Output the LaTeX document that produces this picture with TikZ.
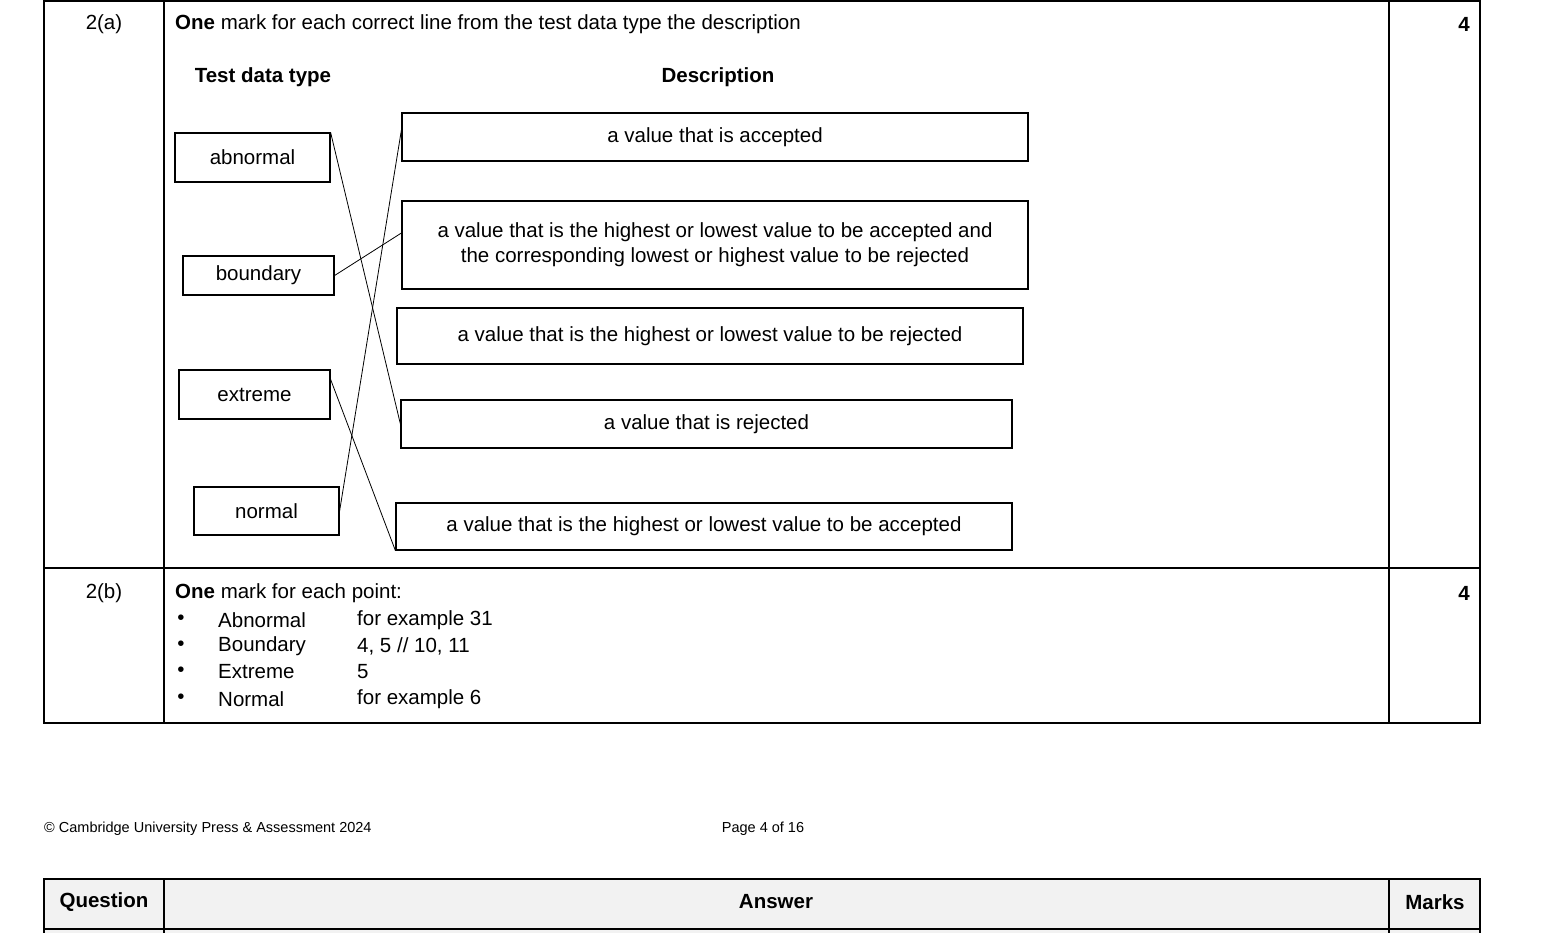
\documentclass[tikz,border=0pt]{standalone}
\usepackage{fontspec}
\setmainfont{Liberation Sans}
\usetikzlibrary{calc}
\begin{document}
\begin{tikzpicture}[x=1pt,y=-1pt,
  box/.style={draw,line width=1.2pt,inner sep=0pt,align=center,font=\fontsize{20.5}{25}\selectfont},
  txt/.style={inner sep=0pt,font=\fontsize{20.5}{25}\selectfont},
  ln/.style={line width=0.8pt}]
\useasboundingbox (0,0) rectangle (1568,932);
% table
\draw[line width=1.2pt] (44,1) rectangle (1480,723);
\draw[line width=1.2pt] (44,568) -- (1480,568) (164,1) -- (164,723) (1389,1) -- (1389,723);
\fill[black!5] (44,879) rectangle (1480,940);
\draw[line width=1.2pt] (44,940) -- (44,879) -- (1480,879) -- (1480,940) (44,929) -- (1480,929) (164,879) -- (164,940) (1389,879) -- (1389,940);
\node[txt] (q) at (104,902) {\textbf{Question}};
\node[txt] (a) at (776,902) {\textbf{Answer}};
\node[txt] (m) at (1435,902) {\textbf{Marks}};
% 2(a)
\node[txt] (qa) at (104,24) {2(a)};
\node[txt,anchor=east] (ma) at (1470,24) {\textbf{4}};
\node[txt,anchor=west] (ins) at (175,24) {\textbf{One} mark for each correct line from the test data type the description};
\node[txt] (h1) at (263,77) {\textbf{Test data type}};
\node[txt] (h2) at (718,77) {\textbf{Description}};
\node[box,minimum width=155,minimum height=49] (abn) at (252.5,157.5) {abnormal};
\node[box,minimum width=151,minimum height=39] (bnd) at (258.5,275.5) {\raisebox{-4pt}{boundary}};
\node[box,minimum width=151,minimum height=49] (ext) at (254.5,394.5) {extreme};
\node[box,minimum width=145,minimum height=48] (nor) at (266.5,511) {normal};
\node[box,minimum width=626,minimum height=48] (b1) at (715,137) {a value that is accepted};
\node[box,minimum width=626,minimum height=88] (b2) at (715,245) {a value that is the highest or lowest value to be accepted and\\the corresponding lowest or highest value to be rejected};
\node[box,minimum width=626,minimum height=56] (b3) at (710,336) {a value that is the highest or lowest value to be rejected};
\node[box,minimum width=611,minimum height=48] (b4) at (706.5,424) {a value that is rejected};
\node[box,minimum width=616,minimum height=47] (b5) at (704,526.5) {a value that is the highest or lowest value to be accepted};
\draw[ln] (abn.north east) -- (b4.west);
\draw[ln] (bnd.east) -- ($(b2.west)+(0,-12)$);
\draw[ln] ($(ext.north east)+(0,10)$) -- (b5.south west);
\draw[ln] (nor.east) -- ($(b1.west)+(0,-7)$);
% 2(b)
\node[txt] (qb) at (104,593) {2(b)};
\node[txt,anchor=east] (mb) at (1470,593) {\textbf{4}};
\node[txt,anchor=west] (p0) at (175,593) {\textbf{One} mark for each point:};
\foreach \y/\a/\b in {620/Abnormal/for example 31,646/Boundary/{4, 5 // 10, 11},672/Extreme/5 // 10,699/Normal/for example 6}{
  \node[txt] at (181,\y) {\textbullet};
  \node[txt,anchor=west] at (218,\y) {\a};
  \node[txt,anchor=west] at (357,\y) {\b};
}
% footer
\node[inner sep=0pt,anchor=west,font=\fontsize{14.5}{17}\selectfont] (c) at (44,829) {© Cambridge University Press \& Assessment 2024};
\node[inner sep=0pt,font=\fontsize{14.5}{17}\selectfont] (pg) at (763,829) {Page 4 of 16};
\end{tikzpicture}
\end{document}
